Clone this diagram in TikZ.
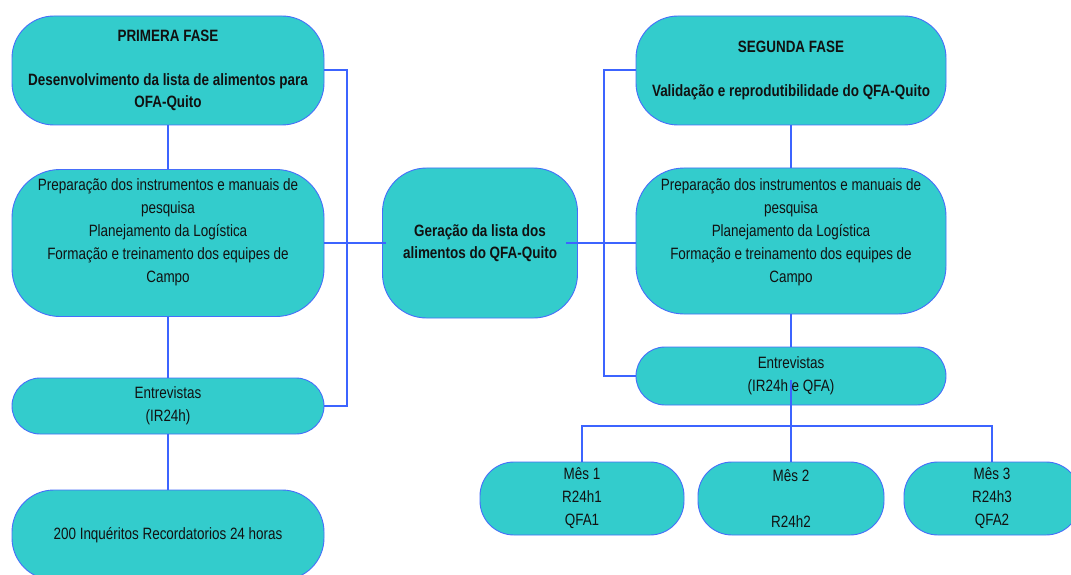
\documentclass[tikz,border=0pt]{standalone}
\usepackage{fontspec}
\setmainfont{Liberation Sans}[FakeStretch=0.82]
\definecolor{boxfill}{RGB}{51,204,204}
\definecolor{boxline}{RGB}{70,110,250}
\definecolor{conn}{RGB}{60,100,255}
\definecolor{txtc}{RGB}{17,17,17}
\begin{document}
\begin{tikzpicture}[x=1pt,y=-1pt,
  box/.style={draw=boxline, line width=0.9pt, fill=boxfill, inner sep=0pt, align=center,
    text=txtc, font={\fontsize{16.4}{23}\selectfont}},
  bbox/.style={box, font={\fontsize{16.4}{22}\selectfont\bfseries}},
  txt/.style={inner sep=0pt, align=center, text=txtc, font={\fontsize{16.4}{23}\selectfont}},
  link/.style={draw=conn, line width=1.4pt},
  thick link/.style={draw=conn, line width=2.6pt}]
\clip (0,0) rectangle (1071,575);
\fill[white] (0,0) rectangle (1071,575);
% left column
\node[bbox, minimum width=312pt, minimum height=109pt, rounded corners=42pt] (p1) at (168,70.5)
  {PRIMERA FASE\\[22pt]Desenvolvimento da lista de alimentos para\\OFA-Quito};
\node[box, minimum width=312pt, minimum height=147pt, rounded corners=48pt] (p2) at (168,243) {};
\node[txt] (p2t) at (168,232) {Preparação dos instrumentos e manuais de\\pesquisa\\Planejamento da Logística\\Formação e treinamento dos equipes de\\Campo};
\node[box, minimum width=312pt, minimum height=56pt, rounded corners=28pt] (p3) at (168,406)
  {Entrevistas\\(IR24h)};
\node[box, minimum width=312pt, minimum height=90pt, rounded corners=42pt] (p4) at (168,535)
  {200 Inquéritos Recordatorios 24 horas};
% centre
\node[bbox, minimum width=195pt, minimum height=150pt, rounded corners=44pt] (g) at (480,243)
  {Geração da lista dos\\alimentos do QFA-Quito};
% right column
\node[bbox, minimum width=310pt, minimum height=109pt, rounded corners=42pt] (s1) at (791,70.5)
  {SEGUNDA FASE\\[22pt]Validação e reprodutibilidade do QFA-Quito};
\node[box, minimum width=310pt, minimum height=146pt, rounded corners=48pt] (s2) at (791,241) {};
\node[txt] (s2t) at (791,232) {Preparação dos instrumentos e manuais de\\pesquisa\\Planejamento da Logística\\Formação e treinamento dos equipes de\\Campo};
\node[box, minimum width=310pt, minimum height=58pt, rounded corners=29pt] (s3) at (791,376)
  {Entrevistas\\(IR24h e QFA)};
\node[box, minimum width=204pt, minimum height=73pt, rounded corners=34pt] (m1) at (582,498.5)
  {Mês 1\\R24h1\\QFA1};
\node[box, minimum width=186pt, minimum height=73pt, rounded corners=34pt] (m2) at (791,498.5)
  {Mês 2\\\mbox{}\\R24h2};
\node[box, minimum width=176pt, minimum height=73pt, rounded corners=34pt] (m3) at (992,498.5)
  {Mês 3\\R24h3\\QFA2};
% coordinates for connectors
\coordinate (lb) at (347,243);
\coordinate (rb) at (604,243);
\coordinate (sj) at (791,426);
\coordinate (sin) at (791,380);
% left connectors
\draw[link] (p1.south) -- (p2.north);
\draw[link] (p2.south) -- (p3.north);
\draw[link] (p3.south) -- (p4.north);
\draw[link] (p1.east |- 0,70) -| (lb |- p3.east) -- (p3.east);
\draw[link] (p2.east) -- (lb);
\draw[thick link] (lb) -- ([xshift=4pt]g.west);
% right connectors
\draw[thick link] ([xshift=-12pt]g.east) -- (rb);
\draw[link] (rb) -- (rb -| s2.west);
\draw[link] (s1.west |- 0,70) -| (rb |- s3.west) -- (s3.west);
\draw[link] (s1.south) -- (s2.north);
\draw[link] (s2.south) -- (s3.north);
\draw[link] (sin) -- (sj);
\draw[link] (m1.north) |- (sj) -| (m3.north);
\draw[link] (sj) -- (m2.north);
\end{tikzpicture}
\end{document}
